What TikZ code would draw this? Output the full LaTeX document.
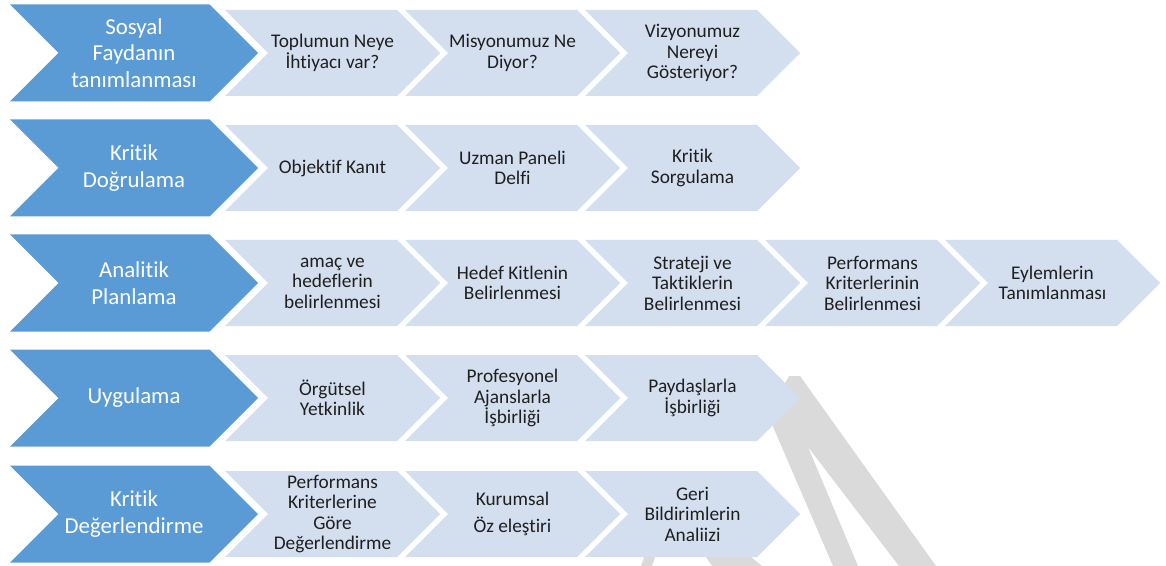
\documentclass[tikz,border=0pt]{standalone}
\usepackage{fontspec}
\setmainfont[Ligatures=NoCommon]{Carlito}
\definecolor{stepblue}{HTML}{5B9BD5}
\definecolor{steplight}{HTML}{D3DEEF}
\definecolor{markgray}{HTML}{DADADA}
\tikzset{
  mainchev/.style={fill=stepblue},
  subchev/.style={fill=steplight},
  maintext/.style={text=white, align=center, inner sep=0pt, font=\fontsize{19.5}{22.5}\selectfont},
  subtext/.style={text=black!88, align=center, inner sep=0pt, font=\fontsize{16.5}{17.5}\selectfont},
}
% chevron: left x, tip x, centre y, half height
\newcommand{\chevpath}[4]{(#1,#3-#4) -- (#2-#4,#3-#4) -- (#2,#3) -- (#2-#4,#3+#4) -- (#1,#3+#4) -- (#1+#4,#3) -- cycle}

\begin{document}
\begin{tikzpicture}[x=0.03cm, y=-0.03cm]
    \useasboundingbox (0,0) rectangle (1166,566);

    % grey mark behind the steps
    \fill[markgray] (789,376) -- (800,376) -- (936,566) -- (899,566) -- (808,447) -- (858,566) -- (833,566) -- (768,415) -- cycle;
    \fill[markgray] (654,530) -- (664,530) -- (652,566) -- (641,566) -- cycle;
    \fill[markgray] (700,548) -- (740,548) -- (762,566) -- (712,566) -- cycle;

    % row 1
    \fill[mainchev] \chevpath{10}{258}{53}{48.5};
    \fill[subchev] \chevpath{225}{440}{53}{43};
    \fill[subchev] \chevpath{405}{620}{53}{43};
    \fill[subchev] \chevpath{585}{800}{53}{43};
    \node[maintext] (sosyal) at (134,53) {Sosyal\\Faydanın\\tanımlanması};
    \node[subtext] (toplum) at (332.5,53) {Toplumun Neye\\İhtiyacı var?};
    \node[subtext] (misyon) at (512.5,53) {Misyonumuz Ne\\Diyor?};
    \node[subtext] (vizyon) at (692.5,53) {Vizyonumuz\\Nereyi\\Gösteriyor?};

    % row 2
    \fill[mainchev] \chevpath{10}{258}{168}{48.5};
    \fill[subchev] \chevpath{225}{440}{168}{43};
    \fill[subchev] \chevpath{405}{620}{168}{43};
    \fill[subchev] \chevpath{585}{800}{168}{43};
    \node[maintext] (dogrulama) at (134,168) {Kritik\\Doğrulama};
    \node[subtext] (kanit) at (332.5,168) {Objektif Kanıt};
    \node[subtext] (delfi) at (512.5,168) {Uzman Paneli\\Delfi};
    \node[subtext] (sorgu) at (692.5,168) {Kritik\\Sorgulama};

    % row 3
    \fill[mainchev] \chevpath{10}{258}{283}{48.5};
    \fill[subchev] \chevpath{225}{440}{283}{43};
    \fill[subchev] \chevpath{405}{620}{283}{43};
    \fill[subchev] \chevpath{585}{800}{283}{43};
    \fill[subchev] \chevpath{765}{980}{283}{43};
    \fill[subchev] \chevpath{945}{1160}{283}{43};
    \node[maintext] (planlama) at (134,283) {Analitik\\Planlama};
    \node[subtext] (amac) at (332.5,283) {amaç ve\\hedeflerin\\belirlenmesi};
    \node[subtext] (hedef) at (512.5,283) {Hedef Kitlenin\\Belirlenmesi};
    \node[subtext] (strateji) at (692.5,283) {Strateji ve\\Taktiklerin\\Belirlenmesi};
    \node[subtext] (kriter) at (872.5,283) {Performans\\Kriterlerinin\\Belirlenmesi};
    \node[subtext] (eylem) at (1052.5,283) {Eylemlerin\\Tanımlanması};

    % row 4
    \fill[mainchev] \chevpath{10}{258}{398}{48.5};
    \fill[subchev] \chevpath{225}{440}{398}{43};
    \fill[subchev] \chevpath{405}{620}{398}{43};
    \fill[subchev] \chevpath{585}{800}{398}{43};
    \node[maintext] (uygulama) at (134,398) {Uygulama};
    \node[subtext] (orgut) at (332.5,398) {Örgütsel\\Yetkinlik};
    \node[subtext] (ajans) at (512.5,398) {Profesyonel\\Ajanslarla\\İşbirliği};
    \node[subtext] (paydas) at (692.5,398) {Paydaşlarla\\İşbirliği};

    % row 5
    \fill[mainchev] \chevpath{10}{258}{514}{48.5};
    \fill[subchev] \chevpath{225}{440}{514}{43};
    \fill[subchev] \chevpath{405}{620}{514}{43};
    \fill[subchev] \chevpath{585}{800}{514}{43};
    \node[maintext] (degerlendirme) at (134,514) {Kritik\\Değerlendirme};
    \node[subtext] (gore) at (332.5,514) {Performans\\Kriterlerine\\Göre\\Değerlendirme};
    \node[subtext] (kurumsal) at (512.5,514) {Kurumsal\\[6pt]Öz eleştiri};
    \node[subtext] (geri) at (692.5,514) {Geri\\Bildirimlerin\\Analiizi};
\end{tikzpicture}
\end{document}
